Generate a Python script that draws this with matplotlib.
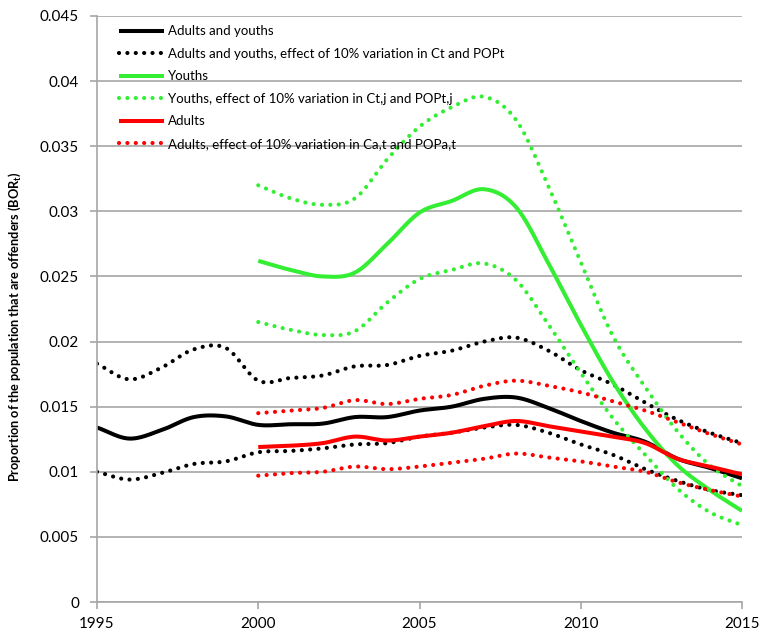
import numpy as np
import matplotlib
matplotlib.use("Agg")
import matplotlib.pyplot as plt
from matplotlib.ticker import FuncFormatter, MultipleLocator

plt.rcParams['font.family'] = ['Lato', 'DejaVu Sans']

years_all = list(range(1995, 2016))
years_2000 = list(range(2000, 2016))

both = [0.0134, 0.01255, 0.0132, 0.0142, 0.01425, 0.0136, 0.01365, 0.0137, 0.0142, 0.0142,
        0.0147, 0.0150, 0.0156, 0.0157, 0.0149, 0.0139, 0.0130, 0.0123, 0.0110, 0.0103, 0.0095]
both_hi = [0.0183, 0.0171, 0.0180, 0.0194, 0.0195, 0.0170, 0.0172, 0.0174, 0.0181, 0.0182,
           0.0189, 0.0193, 0.0200, 0.0203, 0.0193, 0.0178, 0.0167, 0.0153, 0.0140, 0.0130, 0.0122]
both_lo = [0.0100, 0.0094, 0.0099, 0.0106, 0.0108, 0.0115, 0.0116, 0.0118, 0.0121, 0.0122,
           0.0127, 0.0130, 0.0134, 0.0136, 0.0130, 0.0121, 0.0113, 0.0102, 0.0093, 0.0086, 0.0082]

youth = [0.0262, 0.0255, 0.0250, 0.0253, 0.0275, 0.0299, 0.0308, 0.0317, 0.0303, 0.0260,
         0.0213, 0.0169, 0.0133, 0.0105, 0.0086, 0.0070]
youth_hi = [0.0320, 0.0310, 0.0305, 0.0310, 0.0340, 0.0365, 0.0380, 0.0388, 0.0370, 0.0319,
            0.0261, 0.0204, 0.0165, 0.0131, 0.0105, 0.0089]
youth_lo = [0.0215, 0.0209, 0.0205, 0.0208, 0.0230, 0.0248, 0.0255, 0.0260, 0.0247, 0.0213,
            0.0176, 0.0141, 0.0113, 0.0087, 0.0069, 0.0059]

adult = [0.0119, 0.0120, 0.0122, 0.0127, 0.0124, 0.0127, 0.0130, 0.0135, 0.0139, 0.0135,
         0.0131, 0.0127, 0.0122, 0.0110, 0.0104, 0.0098]
adult_hi = [0.0145, 0.0147, 0.0149, 0.0155, 0.0152, 0.0156, 0.0159, 0.0166, 0.0170, 0.0166,
            0.0161, 0.0154, 0.0147, 0.0138, 0.0129, 0.0121]
adult_lo = [0.0097, 0.0099, 0.0100, 0.0104, 0.0102, 0.0104, 0.0107, 0.0110, 0.0114, 0.0111,
            0.0108, 0.0104, 0.0100, 0.0092, 0.0086, 0.0081]

labels = ["Adults and youths",
          "Adults and youths, effect of 10% variation in Ct and POPt",
          "Youths",
          "Youths, effect of 10% variation in Ct,j and POPt,j",
          "Adults",
          "Adults, effect of 10% variation in Ca,t and POPa,t"]

BLACK = "#000000"
GREEN = "#33EE33"
RED = "#FF0000"


def smooth(x, y, n=24):
    """Catmull-Rom spline through the points (like Excel smoothed lines)."""
    x = np.asarray(x, float)
    y = np.asarray(y, float)
    px = np.concatenate([[2 * x[0] - x[1]], x, [2 * x[-1] - x[-2]]])
    py = np.concatenate([[2 * y[0] - y[1]], y, [2 * y[-1] - y[-2]]])
    xs, ys = [], []
    t = np.linspace(0, 1, n, endpoint=False)
    for i in range(1, len(px) - 2):
        for P, out in (((px[i - 1], px[i], px[i + 1], px[i + 2]), xs),
                       ((py[i - 1], py[i], py[i + 1], py[i + 2]), ys)):
            a0, a1, a2, a3 = P
            out.extend(0.5 * ((2 * a1) + (-a0 + a2) * t + (2 * a0 - 5 * a1 + 4 * a2 - a3) * t ** 2
                              + (-a0 + 3 * a1 - 3 * a2 + a3) * t ** 3))
    xs.append(x[-1])
    ys.append(y[-1])
    return np.array(xs), np.array(ys)


fig = plt.figure(figsize=(7.63, 6.34), dpi=100)
ax = fig.add_axes([97 / 763, 32 / 634, (742 - 97) / 763, (602 - 16) / 634])

solid_kw = dict(lw=2.9, solid_capstyle='butt', solid_joinstyle='round')
dot_kw = dict(lw=3.0, linestyle=(0, (0.01, 2.0)), dash_capstyle='round')

ax.plot(*smooth(years_all, both), color=BLACK, label=labels[0], **solid_kw)
ax.plot(*smooth(years_all, both_hi), color=BLACK, label=labels[1], **dot_kw)
ax.plot(*smooth(years_all, both_lo), color=BLACK, **dot_kw)
ax.plot(*smooth(years_2000, youth), color=GREEN, label=labels[2], **solid_kw)
ax.plot(*smooth(years_2000, youth_hi), color=GREEN, label=labels[3], **dot_kw)
ax.plot(*smooth(years_2000, youth_lo), color=GREEN, **dot_kw)
ax.plot(*smooth(years_2000, adult), color=RED, label=labels[4], **solid_kw)
ax.plot(*smooth(years_2000, adult_hi), color=RED, label=labels[5], **dot_kw)
ax.plot(*smooth(years_2000, adult_lo), color=RED, **dot_kw)

ax.set_xlim(1995, 2015)
ax.set_ylim(0, 0.045)
ax.xaxis.set_major_locator(MultipleLocator(5))
ax.yaxis.set_major_locator(MultipleLocator(0.005))
ax.yaxis.set_major_formatter(FuncFormatter(lambda v, p: "0" if abs(v) < 1e-12 else f"{v:.3f}".rstrip('0')))

GRID = "#A6A6A6"
ax.grid(axis='y', color=GRID, lw=1.2)
ax.set_axisbelow(True)
for s in ['top', 'right']:
    ax.spines[s].set_visible(False)
for s in ['left', 'bottom']:
    ax.spines[s].set_color(GRID)
    ax.spines[s].set_linewidth(1.2)
ax.tick_params(axis='both', direction='out', color=GRID, width=1.2, length=5,
               labelsize=11, labelcolor='#000000')
ax.tick_params(axis='y', pad=8)
ax.tick_params(axis='x', pad=6)

ax.set_ylabel("Proportion of the population that are offenders (BOR$_\\mathregular{t}$)",
              fontsize=9.2, fontweight='bold')
ax.yaxis.set_label_coords(-0.115, 0.47)

leg = ax.legend(loc='upper left', bbox_to_anchor=(0.02, 1.0), frameon=False, fontsize=9.5,
                handlelength=3.4, handletextpad=0.3, labelspacing=0.8, borderaxespad=0.3)

fig.savefig("out.png", dpi=100)
